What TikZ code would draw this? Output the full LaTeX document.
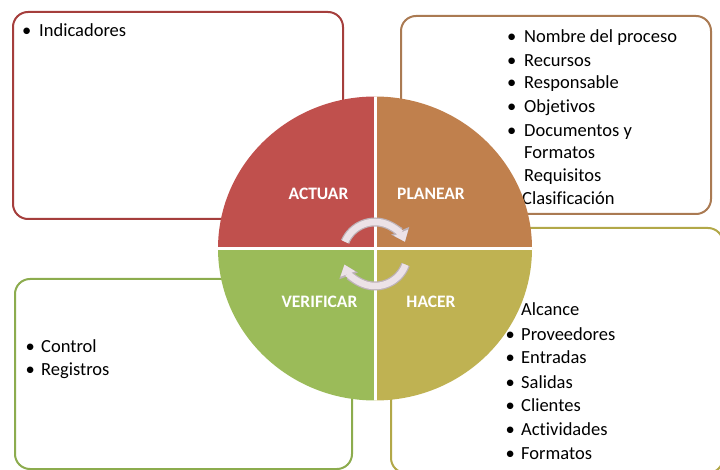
\documentclass[tikz,border=0pt]{standalone}
\usepackage{fontspec}
\setmainfont{Carlito}[Ligatures=NoCommon]
\usetikzlibrary{arrows.meta,calc}
\definecolor{cRed}{RGB}{192,80,77}
\definecolor{cBrown}{RGB}{192,128,77}
\definecolor{cGreen}{RGB}{155,187,89}
\definecolor{cOlive}{RGB}{191,178,82}
\definecolor{bRed}{RGB}{165,62,60}
\definecolor{bBrown}{RGB}{170,122,82}
\definecolor{bGreen}{RGB}{140,172,78}
\definecolor{bOlive}{RGB}{178,168,72}
\definecolor{arrIn}{RGB}{236,226,231}
\definecolor{arrOut}{RGB}{190,178,184}
\begin{document}
\begin{tikzpicture}[x=1pt,y=-1pt,
  panel/.style={line width=2pt, rounded corners=15pt, fill=white, anchor=north west, inner sep=0pt},
  item/.style={anchor=base west, inner sep=0pt, font=\fontsize{18.5}{22}\selectfont},
  quadlbl/.style={anchor=base, inner sep=0pt, text=white, font=\bfseries\fontsize{17.5}{20}\selectfont},
  cycout/.style={draw=arrOut, line width=9pt, -{Triangle[length=12pt,width=19pt]}},
  cycin/.style={draw=arrIn, line width=6.5pt, -{Triangle[length=10pt,width=15pt]}}]
\useasboundingbox (0,0) rectangle (720,470);
\clip (0,0) rectangle (720,470);
% panels
\node[panel, draw=bRed, minimum width=330pt, minimum height=207pt] (actBox) at (12,11) {};
\node[panel, draw=bBrown, minimum width=310pt, minimum height=198pt] (plnBox) at (400,15) {};
\node[panel, draw=bGreen, minimum width=337pt, minimum height=190pt] (verBox) at (14,278) {};
\node[panel, draw=bOlive, minimum width=332pt, minimum height=245pt] (hacBox) at (390,227) {};
% texts
\node[item] (t1) at (22,36.7) {\makebox[17pt][l]{•}Indicadores};
\node[item] (p1) at (507,42.7) {\makebox[17pt][l]{•}Nombre del proceso};
\node[item] (p2) at (507,66.7) {\makebox[17pt][l]{•}Recursos};
\node[item] (p3) at (507,89) {\makebox[17pt][l]{•}Responsable};
\node[item] (p4) at (507,113) {\makebox[17pt][l]{•}Objetivos};
\node[item] (p5) at (507,137) {\makebox[17pt][l]{•}Documentos y};
\node[item] (p6) at (524,159) {Formatos};
\node[item] (p7) at (524,182) {Requisitos};
\node[item] (p8) at (522,204.5) {Clasificación};
\node[item] (v1) at (25.5,352) {\makebox[15.5pt][l]{•}Control};
\node[item] (v2) at (25.5,375.7) {\makebox[15.5pt][l]{•}Registros};
\node[item] (h1) at (521,316) {Alcance};
\node[item] (h2) at (505.4,340) {\makebox[15.6pt][l]{•}Proveedores};
\node[item] (h3) at (505.4,363.3) {\makebox[15.6pt][l]{•}Entradas};
\node[item] (h4) at (505.4,388.3) {\makebox[15.6pt][l]{•}Salidas};
\node[item] (h5) at (505.4,411.7) {\makebox[15.6pt][l]{•}Clientes};
\node[item] (h6) at (505.4,435.7) {\makebox[15.6pt][l]{•}Actividades};
\node[item] (h7) at (505.4,459.3) {\makebox[15.6pt][l]{•}Formatos};
% circle
\begin{scope}
  \clip (375,248.5) ellipse [x radius=157, y radius=152];
  \fill[cRed] (210,90) rectangle (375,248.5);
  \fill[cBrown] (375,90) rectangle (540,248.5);
  \fill[cGreen] (210,248.5) rectangle (375,410);
  \fill[cOlive] (375,248.5) rectangle (540,410);
  \draw[white, line width=3pt] (375,90) -- (375,410);
  \draw[white, line width=3pt] (210,248.5) -- (540,248.5);
\end{scope}
\node[quadlbl] (actLbl) at (318.5,200) {ACTUAR};
\node[quadlbl] (plnLbl) at (431,200) {PLANEAR};
\node[quadlbl] (verLbl) at (319.5,308) {VERIFICAR};
\node[quadlbl] (hacLbl) at (431,308) {HACER};
% cycle arrows
\coordinate (topc) at (375,254.5);
\coordinate (botc) at (375,253.5);
\draw[cycout] ($(topc)+(-157:32.5)$) arc[start angle=-157, end angle=-23, radius=32.5];
\draw[cycin] ($(topc)+(-157:32.5)$) arc[start angle=-157, end angle=-23, radius=32.5];
\draw[cycout] ($(botc)+(20:32.5)$) arc[start angle=20, end angle=160, radius=32.5];
\draw[cycin] ($(botc)+(20:32.5)$) arc[start angle=20, end angle=160, radius=32.5];
\end{tikzpicture}
\end{document}
